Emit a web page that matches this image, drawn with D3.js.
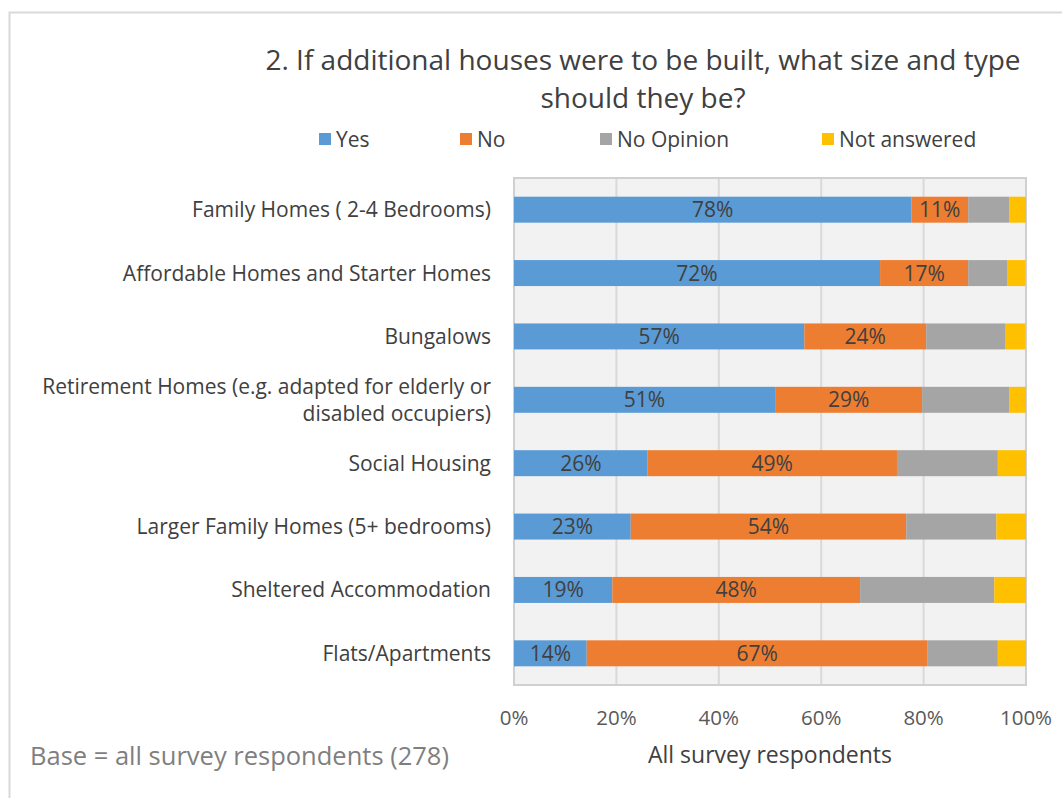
<!DOCTYPE html>
<html lang="en">
<head>
<meta charset="UTF-8" />
<title>Housing size and type</title>
<script src="https://cdn.jsdelivr.net/npm/d3@7"></script>
<style>
  body { margin: 0; background: #fff; }
  text { font-family: "Open Sans", "Noto Sans", sans-serif; fill: #404040; }
</style>
</head>
<body>
<script>
// chart data
var categories = [
  "Family Homes ( 2-4 Bedrooms)",
  "Affordable Homes and Starter Homes",
  "Bungalows",
  "Retirement Homes (e.g. adapted for elderly or|disabled occupiers)",
  "Social Housing",
  "Larger Family Homes (5+ bedrooms)",
  "Sheltered Accommodation",
  "Flats/Apartments"
];
var seriesNames = ["Yes", "No", "No Opinion", "Not answered"];
var yesValues = [77.6, 71.5, 56.7, 51.0, 26.1, 22.8, 19.2, 14.2];
var noValues = [11.1, 17.2, 23.8, 28.7, 48.7, 53.8, 48.4, 66.6];
var noOpinionValues = [8.0, 7.6, 15.4, 17.0, 19.7, 17.6, 26.2, 13.7];
var notAnsweredValues = [3.3, 3.6, 4.0, 3.3, 5.5, 5.8, 6.2, 5.5];
var xTicks = [0, 20, 40, 60, 80, 100];

var colors = ["#5b9bd5", "#ed7d31", "#a5a5a5", "#ffc000"];

var W = 1062, H = 798;
var plot = { left: 514, right: 1026, top: 178, bottom: 685 };

var svg = d3.select("body").append("svg")
  .attr("width", W)
  .attr("height", H);

// outer chart border
svg.append("rect")
  .attr("x", 9.5).attr("y", 12.5)
  .attr("width", W + 10).attr("height", H + 10)
  .attr("fill", "#fff")
  .attr("stroke", "#d9d9d9")
  .attr("stroke-width", 2);

var rows = categories.map(function (c, i) {
  return { name: c, Yes: yesValues[i], No: noValues[i], "No Opinion": noOpinionValues[i], "Not answered": notAnsweredValues[i] };
});
var stacked = d3.stack().keys(seriesNames)(rows);

var x = d3.scaleLinear().domain([0, 100]).range([plot.left, plot.right]);
var y = d3.scaleBand().domain(categories).range([plot.top, plot.bottom]).paddingInner(0.59).paddingOuter(0.295);

// plot background
svg.append("rect")
  .attr("x", plot.left).attr("y", plot.top)
  .attr("width", plot.right - plot.left).attr("height", plot.bottom - plot.top)
  .attr("fill", "#f2f2f2");

// gridlines
svg.append("g").selectAll("line")
  .data(xTicks)
  .enter().append("line")
  .attr("x1", function (d) { return x(d); })
  .attr("x2", function (d) { return x(d); })
  .attr("y1", plot.top).attr("y2", plot.bottom)
  .attr("stroke", "#d9d9d9")
  .attr("stroke-width", 2);

svg.append("rect")
  .attr("x", plot.left).attr("y", plot.top)
  .attr("width", plot.right - plot.left).attr("height", plot.bottom - plot.top)
  .attr("fill", "none")
  .attr("stroke", "#d0d0d0")
  .attr("stroke-width", 2);

// bars
var groups = svg.append("g").selectAll("g")
  .data(stacked)
  .enter().append("g")
  .attr("fill", function (d, i) { return colors[i]; });

groups.selectAll("rect")
  .data(function (d) { return d; })
  .enter().append("rect")
  .attr("x", function (d) { return x(d[0]); })
  .attr("y", function (d) { return y(d.data.name); })
  .attr("width", function (d) { return x(d[1]) - x(d[0]); })
  .attr("height", y.bandwidth());

// data labels for Yes and No
groups.filter(function (d, i) { return i < 2; })
  .selectAll("text")
  .data(function (d) { return d; })
  .enter().append("text")
  .attr("x", function (d) { return (x(d[0]) + x(d[1])) / 2; })
  .attr("y", function (d) { return y(d.data.name) + y.bandwidth() / 2; })
  .attr("dy", "0.36em")
  .attr("text-anchor", "middle")
  .attr("font-size", "21px")
  .text(function (d) { return Math.round(d[1] - d[0]) + "%"; });

// category labels
var catLabels = svg.append("g").selectAll("text")
  .data(categories)
  .enter().append("text")
  .attr("text-anchor", "end")
  .attr("font-size", "21px")
  .attr("y", function (d) { return y(d) + y.bandwidth() / 2; });

catLabels.each(function (d) {
  var lines = d.split("|");
  var t = d3.select(this);
  lines.forEach(function (l, j) {
    t.append("tspan")
      .attr("x", 491)
      .attr("dy", j === 0 ? (0.36 - (lines.length - 1) * 0.65) + "em" : "1.3em")
      .text(l);
  });
});

// x axis tick labels
svg.append("g").selectAll("text")
  .data(xTicks)
  .enter().append("text")
  .attr("x", function (d) { return x(d); })
  .attr("y", 725)
  .attr("text-anchor", "middle")
  .attr("font-size", "20.5px")
  .style("fill", "#595959")
  .text(function (d) { return d + "%"; });

svg.append("text")
  .attr("x", 770).attr("y", 763)
  .attr("text-anchor", "middle")
  .attr("font-size", "23px")
  .text("All survey respondents");

svg.append("text")
  .attr("x", 30).attr("y", 765)
  .attr("font-size", "25.5px")
  .style("fill", "#7f7f7f")
  .text("Base = all survey respondents (278)");

// title
var title = svg.append("text")
  .attr("text-anchor", "middle")
  .attr("font-size", "28px");
title.append("tspan").attr("x", 643).attr("y", 70).text("2. If additional houses were to be built, what size and type");
title.append("tspan").attr("x", 643).attr("y", 108).text("should they be?");

// legend
var legendX = [319, 460, 600, 822];
var legend = svg.append("g").selectAll("g")
  .data(seriesNames)
  .enter().append("g")
  .attr("transform", function (d, i) { return "translate(" + legendX[i] + ",139)"; });
legend.append("rect")
  .attr("x", 0).attr("y", -6)
  .attr("width", 12).attr("height", 12)
  .attr("fill", function (d, i) { return colors[i]; });
legend.append("text")
  .attr("x", 17).attr("dy", "0.36em")
  .attr("font-size", "21px")
  .text(function (d) { return d; });
</script>
</body>
</html>
